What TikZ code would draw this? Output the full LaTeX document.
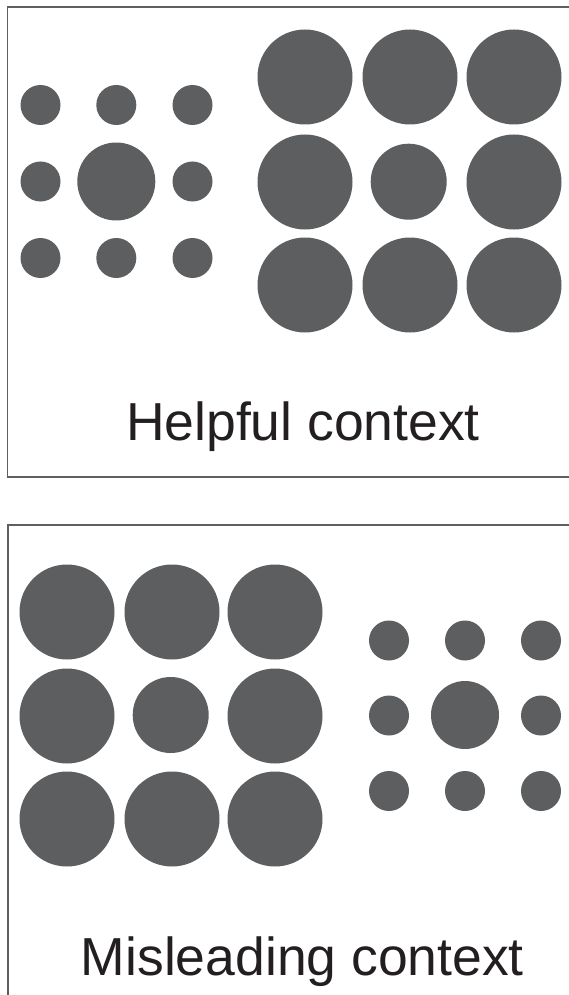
\documentclass[tikz,border=0pt]{standalone}
\usepackage{fontspec}
\setmainfont{Liberation Sans}
\definecolor{dotgray}{RGB}{92,94,96}
\definecolor{framegray}{RGB}{95,95,95}
\definecolor{inkblack}{RGB}{35,31,32}
\begin{document}
\begin{tikzpicture}[x=1pt,y=-1pt,
  dot/.style={circle,fill=dotgray,draw=none,inner sep=0pt,minimum size=#1},
  frameline/.style={draw=framegray,line width=1.8pt},
  caption/.style={anchor=base,inner sep=0pt,text=inkblack,font=\fontsize{53.5}{60}\selectfont}]
\useasboundingbox (0,0) rectangle (569,995);
% ---------- top panel ----------
\coordinate (t1) at (575,7);
\coordinate (t2) at (7.5,7);
\coordinate (t3) at (7.5,477);
\coordinate (t4) at (575,477);
\draw[frameline] (t1) -- (t2) -- (t3) -- (t4);
% small ring, left
\node[dot=40pt] (a11) at (40.5,105) {};
\node[dot=40pt] (a12) at (116.3,105) {};
\node[dot=40pt] (a13) at (192.5,105) {};
\node[dot=40pt] (a21) at (40.5,181.5) {};
\node[dot=78pt] (a22) at (116.3,181.5) {};
\node[dot=40pt] (a23) at (192.5,181.5) {};
\node[dot=40pt] (a31) at (40.5,258) {};
\node[dot=40pt] (a32) at (116.3,258) {};
\node[dot=40pt] (a33) at (192.5,258) {};
% large ring, right
\node[dot=95pt] (b11) at (305,77) {};
\node[dot=95pt] (b12) at (410,77) {};
\node[dot=95pt] (b13) at (514,77) {};
\node[dot=95pt] (b21) at (305,182) {};
\node[dot=76pt] (b22) at (408.7,181.7) {};
\node[dot=95pt] (b23) at (514,182) {};
\node[dot=95pt] (b31) at (305,285) {};
\node[dot=95pt] (b32) at (410,285) {};
\node[dot=95pt] (b33) at (514,285) {};
\node[caption] (cap1) at (303,440) {Helpful context};
% ---------- bottom panel ----------
\coordinate (u1) at (575,525);
\coordinate (u2) at (8,525);
\coordinate (u3) at (8,1000);
\draw[frameline] (u1) -- (u2) -- (u3);
% large ring, left
\node[dot=95pt] (c11) at (67,612) {};
\node[dot=95pt] (c12) at (172,612) {};
\node[dot=95pt] (c13) at (275,612) {};
\node[dot=95pt] (c21) at (67,716) {};
\node[dot=76pt] (c22) at (170.7,715) {};
\node[dot=95pt] (c23) at (275,716) {};
\node[dot=95pt] (c31) at (67,819) {};
\node[dot=95pt] (c32) at (172,819) {};
\node[dot=95pt] (c33) at (275,819) {};
% small ring, right
\node[dot=40pt] (d11) at (389,640.5) {};
\node[dot=40pt] (d12) at (465,640.5) {};
\node[dot=40pt] (d13) at (541,640.5) {};
\node[dot=40pt] (d21) at (389,715.5) {};
\node[dot=68pt] (d22) at (465,715) {};
\node[dot=40pt] (d23) at (541,715.5) {};
\node[dot=40pt] (d31) at (389,791) {};
\node[dot=40pt] (d32) at (465,791) {};
\node[dot=40pt] (d33) at (541,791) {};
\node[caption] (cap2) at (302.4,975) {Misleading context};
\end{tikzpicture}
\end{document}
